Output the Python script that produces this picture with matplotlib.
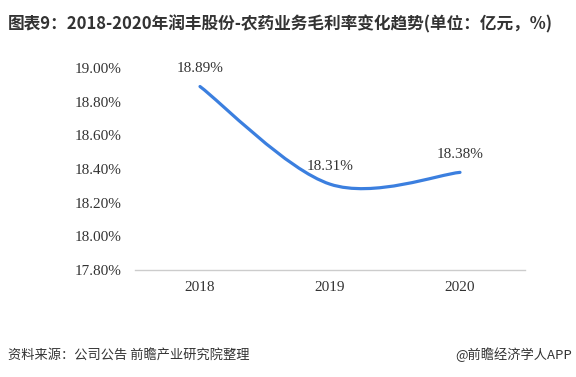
import numpy as np
import matplotlib
matplotlib.use('Agg')
import matplotlib.pyplot as plt
from matplotlib.path import Path
from matplotlib.patches import PathPatch

plt.rcParams['font.family'] = ['Noto Sans CJK SC', 'DejaVu Sans']

years = ['2018', '2019', '2020']
margin = [18.89, 18.31, 18.38]
yticks = [17.8, 18.0, 18.2, 18.4, 18.6, 18.8, 19.0]

fig = plt.figure(figsize=(5.76, 3.77), dpi=100)
W, H = 576, 377
ax = fig.add_axes([135 / W, 1 - 270 / H, 390 / W, (270 - 68) / H])

x = np.arange(len(years))
ax.set_xlim(-0.5, len(years) - 0.5)
ax.set_ylim(17.8, 19.0)

# smoothed line (catmull-rom style bezier, like excel), in pixel space
fig.canvas.draw()
pts = ax.transData.transform(np.column_stack([x, margin]))
n = len(pts)
ext = np.vstack([pts[0], pts, pts[-1]])
verts = [pts[0]]
codes = [Path.MOVETO]
for i in range(n - 1):
    p0, p1, p2, p3 = ext[i], ext[i + 1], ext[i + 2], ext[i + 3]
    verts += [p1 + (p2 - p0) / 6, p2 - (p3 - p1) / 6, p2]
    codes += [Path.CURVE4] * 3
data_verts = ax.transData.inverted().transform(np.array(verts))
ax.add_patch(PathPatch(Path(data_verts, codes), fill=False, edgecolor='#3b7fdf',
                       lw=2.3, capstyle='round'))

for xi, v in zip(x, margin):
    ax.annotate('%.2f%%' % v, (xi, v), xytext=(0, 8), textcoords='offset points',
                ha='center', va='bottom', fontsize=11, color='#333333',
                family='Liberation Serif')

ax.set_xticks(x)
ax.set_xticklabels(years, family='Liberation Serif', fontsize=11, color='#333333')
ax.set_yticks(yticks)
ax.set_yticklabels(['%.2f%%' % t for t in yticks], family='Liberation Serif',
                   fontsize=11, color='#333333')
ax.tick_params(length=0, pad=10)
ax.tick_params(axis='x', pad=8)
for s in ['top', 'right', 'left']:
    ax.spines[s].set_visible(False)
ax.spines['bottom'].set_color('#cccccc')
ax.spines['bottom'].set_linewidth(1)

fig.text(8 / W, 1 - 24 / H, '图表9：2018-2020年润丰股份-农药业务毛利率变化趋势(单位：亿元，%)',
         fontsize=12, fontweight='bold', color='#333333', va='center', ha='left')
fig.text(8 / W, 1 - 355 / H, '资料来源：公司公告 前瞻产业研究院整理',
         fontsize=9.5, color='#333333', va='center', ha='left')
fig.text(572 / W, 1 - 355 / H, '@前瞻经济学人APP',
         fontsize=9.5, color='#333333', va='center', ha='right')

fig.savefig('out.png', dpi=100, facecolor='white')
